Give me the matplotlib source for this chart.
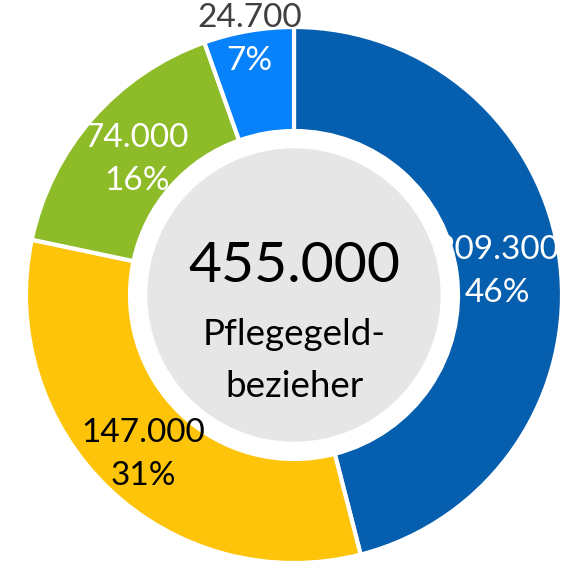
import numpy as np
import matplotlib.pyplot as plt
from matplotlib.patches import Circle

# data
values = [209300, 147000, 74000, 24700]
percents = [46, 31, 16, 7]
total_label = "455.000"
center_lines = ["Pflegegeld-", "bezieher"]

colors = ["#065EAE", "#FDC40A", "#8EBB28", "#0782FA"]
value_colors = ["white", "black", "white", "#404040"]
pct_colors = ["white", "black", "white", "white"]
label_r = [205, 218, 209, 262]


def fmt(v):
    return f"{v:,}".replace(",", ".")


plt.rcParams["font.family"] = ["Lato", "DejaVu Sans"]

fig = plt.figure(figsize=(5.8, 5.66), dpi=100)
ax = fig.add_axes([0, 0, 1, 1])

cx, cy = 294, 271
R, r_in, r_gray = 268, 164, 146

wedges, _ = ax.pie(
    values,
    colors=colors,
    startangle=90,
    counterclock=False,
    radius=R,
    center=(cx, cy),
    wedgeprops=dict(width=R - r_in, edgecolor="white", linewidth=3),
)
ax.add_patch(Circle((cx, cy), r_gray, color="#E6E6E6", zorder=3))

for w, v, p, rr, vc, pc in zip(wedges, values, percents, label_r,
                               value_colors, pct_colors):
    ang = np.deg2rad((w.theta1 + w.theta2) / 2)
    x = cx + rr * np.cos(ang)
    y = cy + rr * np.sin(ang)
    ax.text(x, y + 10, fmt(v), ha="center", va="baseline",
            fontsize=24, color=vc, zorder=4)
    ax.text(x, y - 33, f"{p}%", ha="center", va="baseline",
            fontsize=24, color=pc, zorder=4)

ax.text(cx, 566 - 282, total_label, ha="center", va="baseline",
        fontsize=41, color="black", zorder=4)
ax.text(cx, 566 - 345, center_lines[0], ha="center", va="baseline",
        fontsize=26.5, color="black", zorder=4)
ax.text(cx, 566 - 397, center_lines[1], ha="center", va="baseline",
        fontsize=26.5, color="black", zorder=4)

ax.set_xlim(0, 580)
ax.set_ylim(0, 566)
ax.set_aspect("equal")
ax.axis("off")

fig.savefig("out.png", dpi=100)
